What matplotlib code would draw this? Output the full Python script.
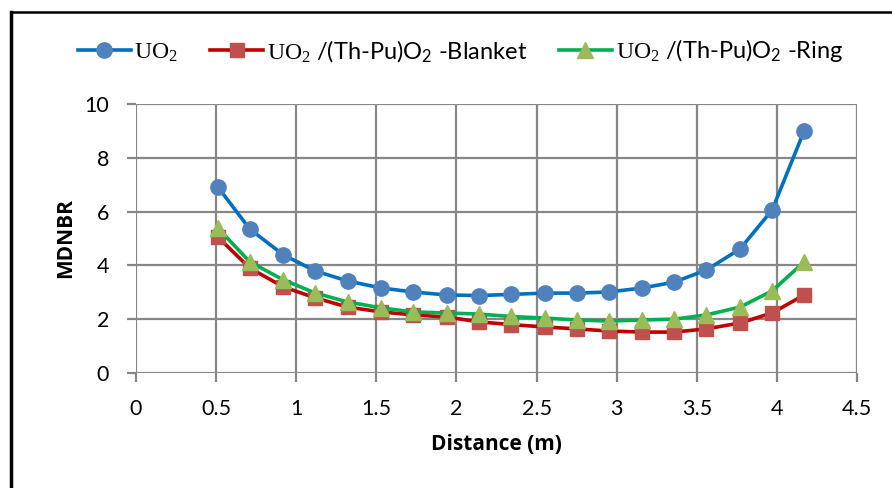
import numpy as np
import matplotlib
matplotlib.use('Agg')
import matplotlib.pyplot as plt
from matplotlib.lines import Line2D

# distance along the channel (m)
distance = [0.51, 0.71, 0.92, 1.12, 1.32, 1.53, 1.73, 1.94, 2.14, 2.34,
            2.55, 2.75, 2.95, 3.16, 3.36, 3.56, 3.77, 3.97, 4.17]

mdnbr_uo2 = [6.92, 5.35, 4.39, 3.79, 3.42, 3.16, 3.01, 2.90, 2.88, 2.92,
             2.97, 2.97, 3.01, 3.16, 3.38, 3.83, 4.61, 6.06, 9.00]
mdnbr_blanket = [5.06, 3.90, 3.20, 2.79, 2.45, 2.27, 2.16, 2.08, 1.90, 1.80,
                 1.71, 1.64, 1.56, 1.52, 1.52, 1.64, 1.86, 2.23, 2.90]
mdnbr_ring = [5.39, 4.13, 3.46, 2.97, 2.64, 2.42, 2.27, 2.23, 2.19, 2.10,
              2.04, 1.97, 1.93, 1.97, 2.00, 2.16, 2.45, 3.05, 4.13]

labels = [r'$\mathrm{UO_2}$',
          r'$\mathrm{UO_2}$ /(Th-Pu)O$_\mathsf{2}$ -Blanket',
          r'$\mathrm{UO_2}$ /(Th-Pu)O$_\mathsf{2}$ -Ring']

plt.rcParams['font.family'] = ['Lato', 'DejaVu Sans']
plt.rcParams['mathtext.fontset'] = 'custom'
plt.rcParams['mathtext.rm'] = 'Liberation Serif'
plt.rcParams['mathtext.sf'] = 'Lato'
plt.rcParams['mathtext.it'] = 'Liberation Serif:italic'

fig = plt.figure(figsize=(8.92, 4.88), dpi=100)
ax = fig.add_axes([0.1525, 0.2357, 0.8083, 0.5512])

ax.plot(distance, mdnbr_uo2, color='#0070C0', lw=2.6, marker='o', ms=11,
        mfc='#4F81BD', mec='#4F81BD', label=labels[0], zorder=3)
ax.plot(distance, mdnbr_blanket, color='#C00000', lw=2.6, marker='s', ms=10,
        mfc='#C0504D', mec='#C0504D', label=labels[1], zorder=3)
ax.plot(distance, mdnbr_ring, color='#00B050', lw=2.6, marker='^', ms=11,
        mfc='#9BBB59', mec='#9BBB59', label=labels[2], zorder=4)

ax.set_xlim(0, 4.5)
ax.set_ylim(0, 10)
ax.set_xticks(np.arange(0, 4.51, 0.5))
ax.set_xticklabels(['0', '0.5', '1', '1.5', '2', '2.5', '3', '3.5', '4', '4.5'])
ax.set_yticks(range(0, 11, 2))
ax.grid(True, color='#878787', lw=1.6)
ax.set_axisbelow(True)
for s in ax.spines.values():
    s.set_visible(False)
ax.tick_params(direction='out', length=6.5, width=1.6, color='#878787',
               labelsize=15.5)
ax.tick_params(axis='x', pad=12)
ax.tick_params(axis='y', pad=13)

ax.set_xlabel('Distance (m)', fontsize=15, fontweight='bold',
              family='Open Sans', labelpad=11)
ax.set_ylabel('MDNBR', fontsize=15, fontweight='bold',
              family='Open Sans', labelpad=6)

fig.legend(loc='center', bbox_to_anchor=(0.516, 0.8955), ncol=3, frameon=False,
           fontsize=17, handlelength=2.25, handletextpad=0.15,
           columnspacing=1.35, borderaxespad=0, borderpad=0)

# chart border (left and top only visible)
fig.add_artist(Line2D([0.0118, 0.0118], [0, 0.976], color='black', lw=2.5))
fig.add_artist(Line2D([0.0118, 1.0], [0.976, 0.976], color='black', lw=1.8))

fig.savefig('out.png', dpi=100)
